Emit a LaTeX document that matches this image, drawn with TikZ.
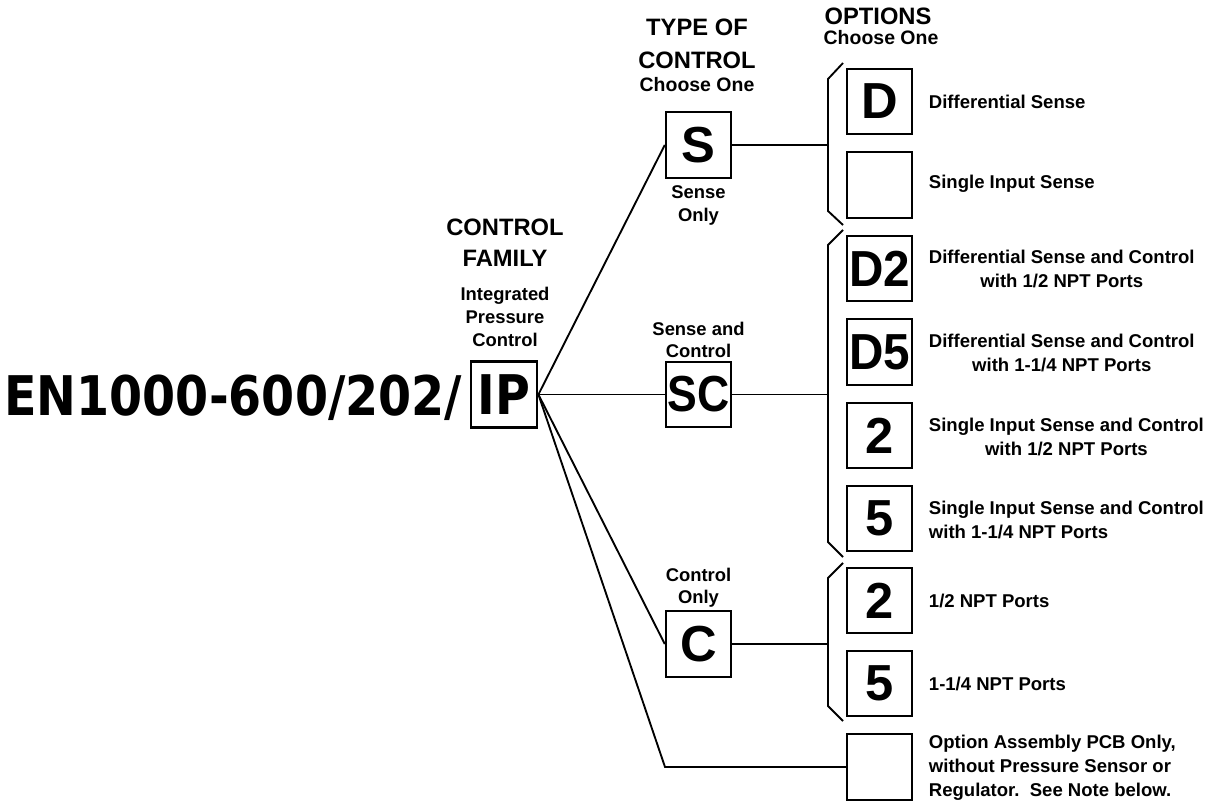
\documentclass[tikz,border=0pt]{standalone}
\usepackage{fontspec}
\usepackage{graphicx}
\setmainfont{Liberation Sans}
\newfontfamily\pnfont{DejaVu Sans}
\begin{document}
\begin{tikzpicture}[x=0.75pt,y=-0.75pt,line width=1.4pt,
  box/.style={draw,line width=1.6pt,minimum width=49pt,minimum height=49pt,inner sep=0pt,font=\bfseries\fontsize{38}{38}\selectfont},
  bigbox/.style={draw,line width=1.6pt,minimum width=50pt,minimum height=49.5pt,inner sep=0pt,font=\pnfont\bfseries\fontsize{41}{41}\selectfont},
  hdr/.style={inner sep=0pt,align=center,font=\bfseries\fontsize{17.8}{24}\selectfont},
  sub/.style={inner sep=0pt,align=center,font=\bfseries\fontsize{14.6}{18}\selectfont},
  lbl/.style={inner sep=0pt,align=center,font=\bfseries\fontsize{13.8}{16.8}\selectfont},
  opt/.style={inner sep=0pt,anchor=west,font=\bfseries\fontsize{13.9}{18}\selectfont}]
\useasboundingbox (0,0) rectangle (1219,803);

% part number
\node[anchor=base east,inner sep=0pt,font=\pnfont\bfseries\fontsize{41}{41}\selectfont] (pn) at (463,415) {\scalebox{0.87}[1]{EN1000-600/202/}};
\node[bigbox] (IP) at (504,394.5) {\scalebox{0.87}[1]{IP}};

% headers
\node[hdr,anchor=north,font=\bfseries\fontsize{17.8}{23}\selectfont] (hfam) at (505,218) {CONTROL\\FAMILY};
\node[lbl,anchor=north,font=\bfseries\fontsize{13.8}{17.4}\selectfont] (hipc) at (505,286) {Integrated\\Pressure\\Control};
\node[hdr,anchor=north,font=\bfseries\fontsize{17.8}{24.4}\selectfont] (htype) at (697,18) {TYPE OF\\CONTROL};
\node[sub,anchor=north] (htypec) at (697,76) {Choose One};
\node[hdr,anchor=north] (hopt) at (878,7) {OPTIONS};
\node[sub,anchor=north] (hoptc) at (881,29) {Choose One};

% type of control
\node[box] (S) at (698.5,145) {S};
\node[box] (SC) at (698.5,394.5) {\scalebox{0.88}[1]{SC}};
\node[box] (C) at (698.5,644) {C};
\node[lbl,anchor=north] (lS) at (698.5,185) {Sense\\Only};
\node[lbl,anchor=north] (lSC) at (698.5,321) {Sense and\\Control};
\node[lbl,anchor=north] (lC) at (698.5,567) {Control\\Only};

% options
\node[box] (oD) at (879.5,101.5) {D};
\node[box] (oS) at (879.5,185) {};
\node[box] (oD2) at (879.5,268.5) {\scalebox{0.94}[1]{D2}};
\node[box] (oD5) at (879.5,352) {\scalebox{0.94}[1]{D5}};
\node[box] (o2a) at (879.5,435.5) {2};
\node[box] (o5a) at (879.5,518.5) {5};
\node[box] (o2b) at (879.5,600.5) {2};
\node[box] (o5b) at (879.5,683.5) {5};
\node[box] (oX) at (879.5,767) {};

\node[opt] (tD) at (928,101.5) {Differential Sense};
\node[opt] (tS) at (928,184) {Single Input Sense};
\node[opt,align=center] (tD2) at (928,269) {Differential Sense and Control\\with 1/2 NPT Ports};
\node[opt,align=center] (tD5) at (928,353) {Differential Sense and Control\\with 1-1/4 NPT Ports};
\node[opt,align=center] (t2a) at (928,436.5) {Single Input Sense and Control\\with 1/2 NPT Ports};
\node[opt,align=left] (t5a) at (928,520) {Single Input Sense and Control\\with 1-1/4 NPT Ports};
\node[opt] (t2b) at (928,600.5) {1/2 NPT Ports};
\node[opt] (t5b) at (928,684) {1-1/4 NPT Ports};
\node[opt,align=left] (tX) at (928,768) {Option Assembly PCB Only,\\without Pressure Sensor or\\Regulator.\ \ See Note below.};

% braces
\coordinate (bS1) at (843,63);  \coordinate (bS2) at (828,79);
\coordinate (bS3) at (828,211); \coordinate (bS4) at (843,225);
\coordinate (bSm) at (828,145);
\coordinate (bC1) at (843,230); \coordinate (bC2) at (828,245);
\coordinate (bC3) at (828,542); \coordinate (bC4) at (843,557);
\coordinate (bCm) at (828,394.5);
\coordinate (bO1) at (843,563); \coordinate (bO2) at (828,578);
\coordinate (bO3) at (828,706); \coordinate (bO4) at (843,721);
\coordinate (bOm) at (828,644);
\draw (bS1) -- (bS2) -- (bS3) -- (bS4);
\draw (bC1) -- (bC2) -- (bC3) -- (bC4);
\draw (bO1) -- (bO2) -- (bO3) -- (bO4);

% connectors
\draw (S.east) -- (bSm);
\draw (SC.east) -- (bCm);
\draw (C.east) -- (bOm);
\draw (IP.east) -- (S.west);
\draw (IP.east) -- (SC.west);
\draw (IP.east) -- (C.west);
\coordinate (bend) at (665,767);
\draw (IP.east) -- (bend) -- (oX.west);
\end{tikzpicture}
\end{document}
